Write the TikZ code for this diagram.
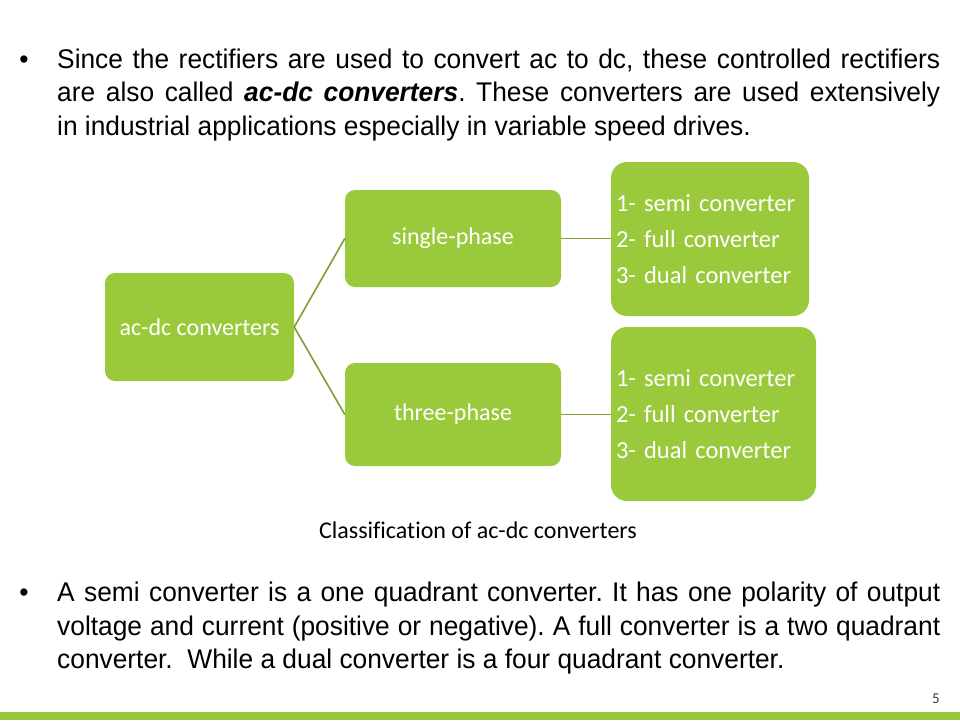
\documentclass[tikz,border=0pt]{standalone}
\usepackage{fontspec}
\frenchspacing
\setmainfont{Liberation Sans}
\newfontfamily\bodyfont[FakeStretch=0.975]{Liberation Sans}
\newfontfamily\calfont[Ligatures=CommonOff]{Carlito}
\definecolor{nodegreen}{RGB}{154,202,60}
\definecolor{linegreen}{RGB}{124,160,52}
\definecolor{bargreen}{RGB}{152,200,58}
\definecolor{pagegray}{RGB}{60,60,60}
\begin{document}
\begin{tikzpicture}[x=1pt,y=-1pt,
  box/.style={fill=nodegreen, draw=none, rounded corners=10pt, text=white,
    font=\calfont\fontsize{24}{29}\selectfont, inner sep=0pt},
  listbox/.style={box, rounded corners=16pt, align=left, inner xsep=5pt,
    font=\calfont\fontsize{24.5}{36}\selectfont},
  conn/.style={draw=linegreen, line width=1.6pt},
  bodyline/.style={anchor=base west, inner sep=0pt, font=\bodyfont\fontsize{27}{33}\selectfont},
  bullet/.style={anchor=base, inner sep=0pt, font=\bodyfont\fontsize{27}{33}\selectfont}]
\useasboundingbox (0,0) rectangle (960,720);
\fill[white] (0,0) rectangle (960,720);

% top paragraph
\node[bullet] (b1) at (24,68) {•};
\node[bodyline] (t1) at (57,68) {\makebox[883pt][s]{Since the rectifiers are used to convert ac to dc, these controlled rectifiers}};
\node[bodyline] (t2) at (57,101.5) {\makebox[883pt][s]{are also called \textbf{\textit{ac-dc converters}}. These converters are used extensively}};
\node[bodyline] (t3) at (57,135) {in industrial applications especially in variable speed drives.};

% diagram
\node[box, minimum width=189pt, minimum height=108pt] (acdc) at (199.5,327) {ac-dc converters};
\node[box, minimum width=216pt, minimum height=97pt] (single) at (453,238.5) {single-phase};
\node[box, minimum width=216pt, minimum height=103pt] (three) at (453,414.5) {three-phase};
\node[listbox, minimum height=154pt, text width=188pt] (l1) at (710,239)
  {1- semi converter\\2- full converter\\3- dual converter};
\node[listbox, minimum height=174pt, text width=195pt] (l2) at (713.5,414)
  {1- semi converter\\2- full converter\\3- dual converter};

\draw[conn] (acdc.east) -- (single.west);
\draw[conn] (acdc.east) -- (three.west);
\draw[conn] (single.east) -- (single.east -| l1.west);
\draw[conn] (three.east) -- (three.east -| l2.west);

\node[anchor=base, inner sep=0pt, font=\calfont\fontsize{24}{29}\selectfont] (cap) at (478,538) {Classification of ac-dc converters};

% bottom paragraph
\node[bullet] (b2) at (24,601.5) {•};
\node[bodyline] (u1) at (57,601.5) {\makebox[883pt][s]{A semi converter is a one quadrant converter. It has one polarity of output}};
\node[bodyline] (u2) at (57,635) {\makebox[883pt][s]{voltage and current (positive or negative). A full converter is a two quadrant}};
\node[bodyline] (u3) at (57,668) {converter. \ While a dual converter is a four quadrant converter.};

% footer
\node[anchor=base, inner sep=0pt, text=pagegray, font=\calfont\fontsize{15}{18}\selectfont] (pg) at (936,703) {5};
\fill[bargreen] (0,712) rectangle (960,720);
\end{tikzpicture}
\end{document}
